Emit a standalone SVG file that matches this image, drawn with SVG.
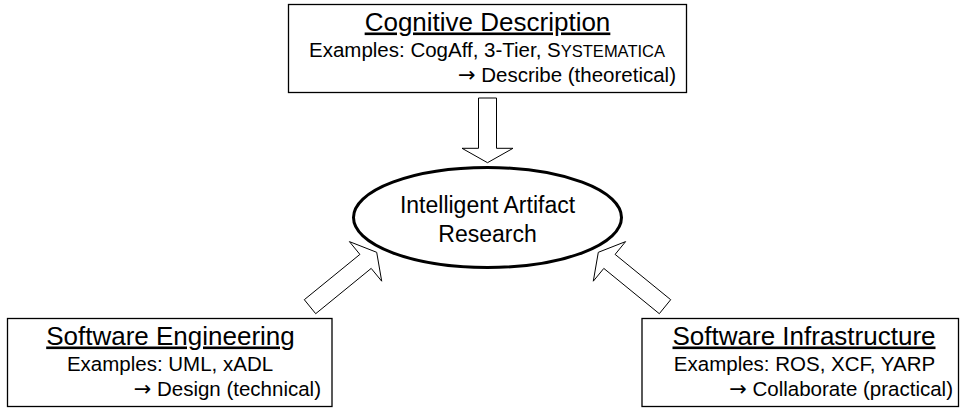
<svg xmlns="http://www.w3.org/2000/svg" width="960" height="408" viewBox="0 0 960 408">
  <style>
    text { font-family: "Liberation Sans", Arial, sans-serif; fill: #000; }
    .box { fill: #fff; stroke: #000; stroke-width: 1.3; }
    .title { font-size: 26px; text-anchor: middle; text-decoration: underline; }
    .body { font-size: 20.5px; text-anchor: middle; }
    .role { font-size: 20.5px; text-anchor: end; }
    .arw { font-family: "DejaVu Sans", sans-serif; font-size: 21px; }
    .sc { font-size: 16.5px; }
    .hub { fill: #fff; stroke: #000; stroke-width: 3; }
    .hubtext { font-size: 23px; text-anchor: middle; }
    .blockarrow { fill: #fff; stroke: #000; stroke-width: 1; stroke-linejoin: miter; }
  </style>

  <rect width="960" height="408" fill="#fff"/>

  <!-- hollow block arrows feeding the central ellipse -->
  <g id="connectors">
    <polygon class="blockarrow" points="478.5,98 496.5,98 496.5,148.3 513,148.3 487.5,162.7 462,148.3 478.5,148.3"/>
    <polygon class="blockarrow" points="304.3,299.7 359.9,254.4 349.4,241.6 376.7,252.3 381.7,281.2 371.2,268.4 315.7,313.7"/>
    <polygon class="blockarrow" points="670.7,299.7 615.1,254.4 625.6,241.6 598.3,252.3 593.3,281.2 603.8,268.4 659.3,313.7"/>
  </g>

  <g id="cognitive-description">
    <rect class="box" x="288.5" y="4.5" width="398" height="88"/>
    <text class="title" x="487.5" y="30.5">Cognitive Description</text>
    <text class="body" x="487" y="57">Examples: CogAff, 3-Tier, S<tspan class="sc">YSTEMATICA</tspan></text>
    <text class="role" x="676" y="82"><tspan class="arw">→</tspan> Describe (theoretical)</text>
  </g>

  <g id="intelligent-artifact-research">
    <ellipse class="hub" cx="487.5" cy="217.5" rx="134" ry="50"/>
    <text class="hubtext" x="487.5" y="213">Intelligent Artifact</text>
    <text class="hubtext" x="487.5" y="241.5">Research</text>
  </g>

  <g id="software-engineering">
    <rect class="box" x="7.5" y="318.5" width="324.5" height="88"/>
    <text class="title" x="170.5" y="344.5">Software Engineering</text>
    <text class="body" x="170" y="371">Examples: UML, xADL</text>
    <text class="role" x="321" y="396"><tspan class="arw">→</tspan> Design (technical)</text>
  </g>

  <g id="software-infrastructure">
    <rect class="box" x="642" y="318.5" width="316.5" height="88"/>
    <text class="title" x="804" y="344.5">Software Infrastructure</text>
    <text class="body" x="804.5" y="371">Examples: ROS, XCF, YARP</text>
    <text class="role" x="953" y="396"><tspan class="arw">→</tspan> Collaborate (practical)</text>
  </g>
</svg>
